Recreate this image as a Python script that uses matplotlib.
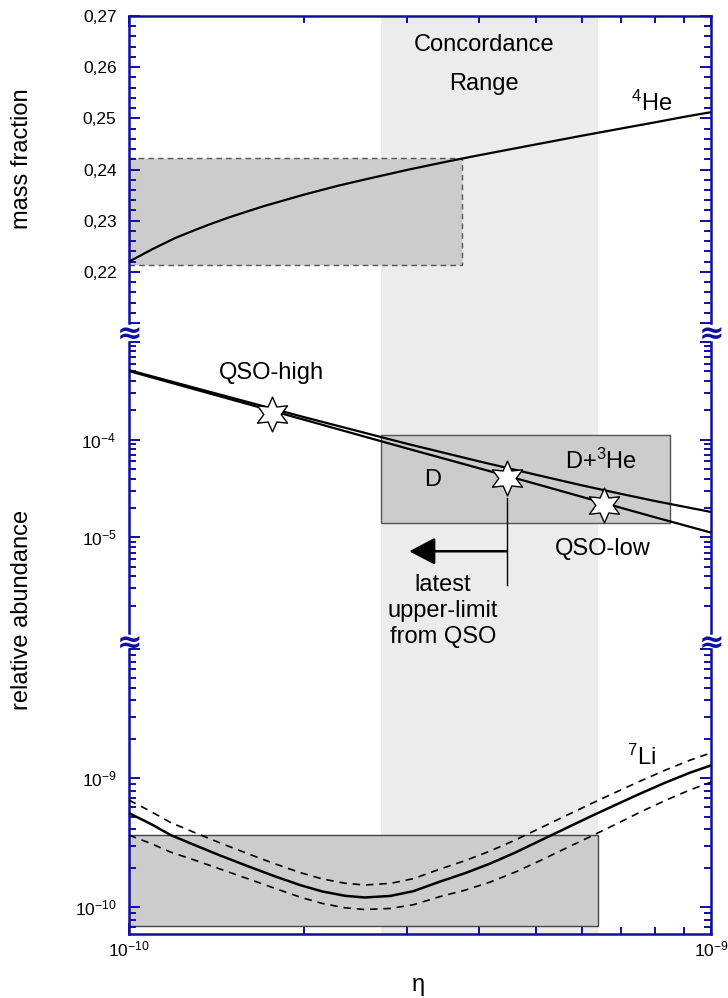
import numpy as np
import matplotlib
matplotlib.use('Agg')
import matplotlib.pyplot as plt
from matplotlib.path import Path
from matplotlib.patches import Rectangle
from matplotlib.ticker import (MultipleLocator, FixedLocator, FuncFormatter,
                               NullFormatter, LogLocator)

plt.rcParams['font.family'] = ['Liberation Sans', 'DejaVu Sans']
plt.rcParams['mathtext.fontset'] = 'custom'
plt.rcParams['mathtext.rm'] = 'Liberation Sans'
plt.rcParams['mathtext.it'] = 'Liberation Sans:italic'
plt.rcParams['mathtext.bf'] = 'Liberation Sans:bold'

NAVY = '#1010a0'

# ---------------- data (eta in units of 1e-10) ----------------
eta_range = [1.0, 10.0]
concordance = [2.71, 6.39]

# 4He mass fraction
eta_he = [1.0, 1.1, 1.2, 1.3, 1.4, 1.5, 1.7, 2.0, 2.3, 2.6, 3.0, 3.5, 4.0,
          5.0, 6.0, 7.0, 8.0, 9.0, 10.0]
yp_he4 = [0.2220, 0.2245, 0.2266, 0.2282, 0.2296, 0.2308, 0.2328, 0.2351,
          0.2369, 0.2383, 0.2399, 0.2415, 0.2428, 0.2449, 0.2466, 0.2480,
          0.2492, 0.2503, 0.2512]
he4_box_eta = [1.0, 3.73]
he4_box_y = [0.2214, 0.2423]

# D and D+3He
eta_d = [1.0, 2.0, 3.0, 4.0, 5.0, 6.0, 7.0, 8.0, 10.0]
d_h = [5.04e-4, 1.60e-4, 8.15e-5, 5.09e-5, 3.53e-5, 2.60e-5, 2.01e-5,
       1.61e-5, 1.12e-5]
d_he3_h = [5.15e-4, 1.70e-4, 9.10e-5, 5.99e-5, 4.38e-5, 3.41e-5, 2.79e-5,
           2.36e-5, 1.82e-5]
d_box_eta = [2.71, 8.5]
d_box_val = [1.42e-5, 1.11e-4]
qso_eta = [1.76, 4.46, 6.55]
qso_val = [1.85e-4, 4.03e-5, 2.16e-5]
limit_eta = [4.46, 3.03]
limit_line_val = [2.52e-5, 3.22e-6]
limit_arrow_val = 7.21e-6

# 7Li
eta_li = [1.00, 1.09, 1.18, 1.30, 1.44, 1.61, 1.78, 1.97, 2.15, 2.35, 2.54,
          2.81, 3.08, 3.42, 3.78, 4.17, 4.61, 5.08, 5.61, 6.20, 6.84, 7.55,
          8.34, 9.20, 10.0]
li7 = [5.355e-10, 4.416e-10, 3.614e-10, 3.013e-10, 2.497e-10, 2.056e-10,
       1.736e-10, 1.481e-10, 1.323e-10, 1.226e-10, 1.189e-10, 1.222e-10,
       1.330e-10, 1.577e-10, 1.835e-10, 2.174e-10, 2.651e-10, 3.270e-10,
       4.054e-10, 5.029e-10, 6.175e-10, 7.568e-10, 9.21e-10, 1.101e-9,
       1.254e-9]
li7_hi = [6.753e-10, 5.520e-10, 4.518e-10, 3.766e-10, 3.121e-10, 2.570e-10,
          2.170e-10, 1.851e-10, 1.654e-10, 1.533e-10, 1.486e-10, 1.528e-10,
          1.663e-10, 1.971e-10, 2.294e-10, 2.718e-10, 3.314e-10, 4.088e-10,
          5.068e-10, 6.286e-10, 7.719e-10, 9.460e-10, 1.151e-9, 1.376e-9,
          1.568e-9]
li7_lo = [3.616e-10, 3.117e-10, 2.668e-10, 2.306e-10, 1.962e-10, 1.645e-10,
          1.401e-10, 1.195e-10, 1.068e-10, 9.896e-11, 9.598e-11, 9.776e-11,
          1.045e-10, 1.207e-10, 1.355e-10, 1.563e-10, 1.871e-10, 2.288e-10,
          2.837e-10, 3.519e-10, 4.359e-10, 5.441e-10, 6.703e-10, 8.099e-10,
          9.307e-10]
li_box_eta = [1.0, 6.39]
li_box_val = [7.13e-11, 3.61e-10]

E = 1e-10
def ev(a):
    return np.asarray(a) * E

# ---------------- figure ----------------
W_PX, H_PX = 728, 998
fig = plt.figure(figsize=(W_PX / 100, H_PX / 100), dpi=100)
L_PX, R_PX = 129, 711

def rect(top, bot):
    return [L_PX / W_PX, 1 - bot / H_PX, (R_PX - L_PX) / W_PX, (bot - top) / H_PX]

bg = fig.add_axes(rect(16, 934), zorder=0)
bg.set_xscale('log')
bg.set_xlim(*ev(eta_range))
bg.axis('off')
bg.axvspan(*ev(concordance), color='#ececec', lw=0)

ax1 = fig.add_axes(rect(16, 323), zorder=2)
ax2 = fig.add_axes(rect(342, 633), zorder=2)
ax3 = fig.add_axes(rect(649, 934), zorder=2)

TICKFS = 12.5
TXTFS = 17
for ax in (ax1, ax2, ax3):
    ax.patch.set_visible(False)
    ax.set_xscale('log')
    ax.set_xlim(*ev(eta_range))
    ax.xaxis.set_major_locator(FixedLocator(ev(eta_range)))
    ax.xaxis.set_minor_locator(LogLocator(base=10, subs=np.arange(2, 10)))
    for s in ax.spines.values():
        s.set_color(NAVY)
        s.set_linewidth(1.8)
    ax.tick_params(axis='both', which='both', direction='in', color=NAVY,
                   width=1.4, labelsize=TICKFS, labelcolor='black')
    ax.tick_params(axis='y', which='both', left=True, right=True, pad=9)
    ax.tick_params(axis='both', which='major', length=8)
    ax.tick_params(axis='both', which='minor', length=5)
    ax.xaxis.set_minor_formatter(NullFormatter())

# ---- panel 1: 4He ----
ax1.spines['bottom'].set_visible(False)
ax1.tick_params(axis='x', which='both', bottom=False, top=True,
                labelbottom=False, labeltop=False)
ax1.set_ylim(0.21, 0.27)
ax1.yaxis.set_major_locator(MultipleLocator(0.01))
ax1.yaxis.set_minor_locator(MultipleLocator(0.002))
ax1.yaxis.set_major_formatter(FuncFormatter(
    lambda v, p: '' if v < 0.215 else f'{v:.2f}'.replace('.', ',')))
ax1.add_patch(Rectangle((ev(he4_box_eta)[0], he4_box_y[0]),
                        ev(he4_box_eta)[1] - ev(he4_box_eta)[0],
                        he4_box_y[1] - he4_box_y[0],
                        facecolor='#cccccc', edgecolor='#555555', lw=1.0,
                        ls=(0, (4, 3)), zorder=1))
ax1.plot(ev(eta_he), yp_he4, color='black', lw=1.6, zorder=3)
ax1.text(4.07e-10, 0.2643, 'Concordance', ha='center', va='center', fontsize=TXTFS)
ax1.text(4.07e-10, 0.2567, 'Range', ha='center', va='center', fontsize=TXTFS)
ax1.text(7.92e-10, 0.2530, r'$^{4}$He', ha='center', va='center', fontsize=TXTFS)

# ---- panel 2: D, D+3He ----
ax2.spines['bottom'].set_visible(False)
ax2.spines['top'].set_visible(False)
ax2.tick_params(axis='x', which='both', bottom=False, top=False,
                labelbottom=False, labeltop=False)
ax2.set_yscale('log')
ax2.set_ylim(1.05e-6, 1.0e-3)
ax2.yaxis.set_major_locator(LogLocator(base=10))
ax2.yaxis.set_minor_locator(LogLocator(base=10, subs=np.arange(2, 10)))
ax2.yaxis.set_minor_formatter(NullFormatter())
ax2.yaxis.set_major_formatter(FuncFormatter(
    lambda v, p: (r'$10^{%d}$' % round(np.log10(v))) if round(np.log10(v)) in (-4, -5) else ''))
ax2.add_patch(Rectangle((ev(d_box_eta)[0], d_box_val[0]),
                        ev(d_box_eta)[1] - ev(d_box_eta)[0],
                        d_box_val[1] - d_box_val[0],
                        facecolor='#cccccc', edgecolor='#555555', lw=1.0, zorder=1))
ax2.plot(ev(eta_d), d_he3_h, color='black', lw=1.6, zorder=3)
ax2.plot(ev(eta_d), d_h, color='black', lw=1.6, zorder=3)

ang = np.deg2rad(90 + 30 * np.arange(12))
rad = np.where(np.arange(12) % 2 == 0, 1.0, 0.5)
sv = np.column_stack([rad * np.cos(ang), rad * np.sin(ang)])
star = Path(np.vstack([sv, sv[:1]]), closed=True)
ax2.plot(ev(qso_eta), qso_val, ls='none', marker=star, markersize=25,
         mfc='white', mec='black', mew=1.0, zorder=5)

ax2.plot([ev(limit_eta)[0]] * 2, limit_line_val, color='black', lw=1.0, zorder=3)
ax2.annotate('', xy=(ev(limit_eta)[1], limit_arrow_val),
             xytext=(ev(limit_eta)[0], limit_arrow_val),
             arrowprops=dict(arrowstyle='-|>,head_length=0.8,head_width=0.42',
                             lw=1.8, color='black', shrinkA=0, shrinkB=0,
                             mutation_scale=20), zorder=4)

ax2.text(1.754e-10, 4.78e-4, 'QSO-high', ha='center', va='center', fontsize=TXTFS)
ax2.text(3.33e-10, 3.91e-5, 'D', ha='center', va='center', fontsize=TXTFS, zorder=6)
ax2.text(6.48e-10, 6.0e-5, r'D+$^{3}$He', ha='center', va='center', fontsize=TXTFS, zorder=6)
ax2.text(6.52e-10, 7.55e-6, 'QSO-low', ha='center', va='center', fontsize=TXTFS)
ax2.text(3.46e-10, 1.76e-6, 'latest\nupper-limit\nfrom QSO', ha='center',
         va='center', fontsize=TXTFS, linespacing=1.22)

# ---- panel 3: 7Li ----
ax3.spines['top'].set_visible(False)
ax3.tick_params(axis='x', which='both', bottom=True, top=False,
                labelbottom=True, labeltop=False, pad=4)
ax3.set_yscale('log')
ax3.set_ylim(6.2e-11, 1.0e-8)
ax3.yaxis.set_major_locator(LogLocator(base=10))
ax3.yaxis.set_minor_locator(LogLocator(base=10, subs=np.arange(2, 10)))
ax3.yaxis.set_minor_formatter(NullFormatter())
ax3.yaxis.set_major_formatter(FuncFormatter(
    lambda v, p: (r'$10^{%d}$' % round(np.log10(v))) if round(np.log10(v)) in (-9, -10) else ''))
ax3.xaxis.set_major_formatter(FuncFormatter(
    lambda v, p: r'$10^{%d}$' % round(np.log10(v))))
ax3.add_patch(Rectangle((ev(li_box_eta)[0], li_box_val[0]),
                        ev(li_box_eta)[1] - ev(li_box_eta)[0],
                        li_box_val[1] - li_box_val[0],
                        facecolor='#cccccc', edgecolor='#444444', lw=1.0, zorder=1))
ax3.plot(ev(eta_li), li7, color='black', lw=1.8, zorder=3)
ax3.plot(ev(eta_li), li7_hi, color='black', lw=1.2, dashes=(4.5, 3.5), zorder=3)
ax3.plot(ev(eta_li), li7_lo, color='black', lw=1.2, dashes=(4.5, 3.5), zorder=3)
ax3.text(7.6e-10, 1.46e-9, r'$^{7}$Li', ha='center', va='center', fontsize=TXTFS)

# ---- axis labels and break marks ----
fig.text(22 / W_PX, 1 - 159 / H_PX, 'mass fraction', rotation=90,
         ha='center', va='center', fontsize=TXTFS)
fig.text(22 / W_PX, 1 - 610 / H_PX, 'relative abundance', rotation=90,
         ha='center', va='center', fontsize=TXTFS)
fig.text(418 / W_PX, 1 - 985 / H_PX, 'η', ha='center', va='center', fontsize=17)

for xp in (L_PX, R_PX):
    for yp in (332, 641):
        fig.text(xp / W_PX, 1 - yp / H_PX, '≈', color=NAVY, fontsize=22,
                 ha='center', va='center_baseline', family='DejaVu Sans',
                 fontweight='bold')

fig.savefig('out.png', dpi=100)
